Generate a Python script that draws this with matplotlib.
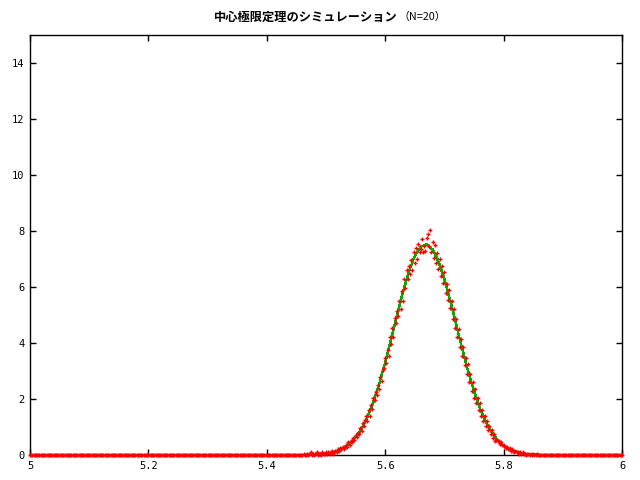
import matplotlib
matplotlib.use("Agg")
import matplotlib.pyplot as plt
import numpy as np

plt.rcParams['font.family'] = ['Noto Sans CJK JP', 'DejaVu Sans']

title_main = "中心極限定理のシミュレーション"
title_sub = "（N=20）"

# histogram of sample means, bins of 0.002 on [5, 6]; non-zero part starts at 5.460
hist_step = 0.002
hist_start = 5.460
hist_peak = [
    0, 0.05, 0, 0, 0.05, 0, 0.05, 0.1, 0, 0.05,
    0, 0.05, 0.1, 0, 0.05, 0.05, 0, 0.1, 0.05, 0.05,
    0.1, 0.05, 0.1, 0.05, 0.1, 0.15, 0.05, 0.1, 0.15, 0.1,
    0.2, 0.15, 0.25, 0.2, 0.3, 0.2, 0.3, 0.35, 0.3, 0.45,
    0.35, 0.5, 0.45, 0.6, 0.55, 0.7, 0.65, 0.8, 0.75, 0.95,
    0.85, 1.15, 1.05, 1.25, 1.4, 1.2, 1.6, 1.4, 1.8, 1.65,
    2.05, 1.95, 2.25, 2.15, 2.5, 2.35, 2.8, 2.65, 3.05, 3.1,
    3.45, 3.3, 3.75, 3.55, 4.2, 3.95, 4.55, 4.2, 4.9, 4.7,
    5.15, 4.95, 5.5, 5.2, 5.85, 5.5, 6.3, 5.95, 6.6, 6.3,
    6.75, 6.45, 6.95, 6.6, 7.25, 6.85, 7.4, 7.0, 7.55, 7.25,
    7.35, 7.7, 7.25, 7.45,
    7.3, 7.75, 7.9, 7.45, 8.05, 7.25, 7.6, 7.05, 7.5, 6.85,
    7.2, 6.65, 7.0, 6.4, 6.75, 6.15, 6.55, 5.8, 6.1, 5.55,
    5.9, 5.25, 5.5, 4.85, 5.2, 4.55, 4.85, 4.2, 4.5, 3.85,
    4.15, 3.55, 3.85, 3.2, 3.45, 2.9, 3.25, 2.6, 2.9, 2.3,
    2.6, 2.05, 2.35, 1.85, 2.05, 1.6, 1.85, 1.4, 1.6, 1.2,
    1.4, 1.05, 1.2, 0.9, 1.05, 0.75, 0.9, 0.6, 0.75, 0.5,
    0.55, 0.5, 0.5, 0.4, 0.45, 0.35, 0.35, 0.3, 0.25, 0.3,
    0.2, 0.25, 0.15, 0.2, 0.15, 0.1, 0.15, 0.1, 0.1, 0.05,
    0.1, 0.05, 0.1, 0.05, 0.05, 0, 0.05, 0.05, 0, 0.05,
    0, 0.05, 0, 0, 0.05,
]

# normal density curve (sampled)
curve_x = [5.0, 5.45, 5.46, 5.47, 5.48, 5.49, 5.50, 5.51, 5.52, 5.53, 5.54,
           5.55, 5.56, 5.57, 5.58, 5.59, 5.60, 5.61, 5.62, 5.63, 5.64,
           5.65, 5.66, 5.67, 5.68, 5.69, 5.70, 5.71, 5.72, 5.73, 5.74,
           5.75, 5.76, 5.77, 5.78, 5.79, 5.80, 5.81, 5.82, 5.83, 5.84,
           5.85, 5.86, 5.87, 5.88, 6.0]
curve_y = [0.0, 0.0, 0.003, 0.007, 0.014, 0.027, 0.049, 0.088, 0.152, 0.254, 0.408,
           0.632, 0.945, 1.36, 1.90, 2.55, 3.31, 4.14, 5.00, 5.82, 6.55,
           7.11, 7.44, 7.52, 7.34, 6.91, 6.28, 5.50, 4.65, 3.80, 2.99,
           2.28, 1.67, 1.18, 0.807, 0.532, 0.339, 0.208, 0.123, 0.070, 0.039,
           0.020, 0.010, 0.005, 0.0, 0.0]

x_ticks = [5, 5.2, 5.4, 5.6, 5.8, 6]
x_tick_labels = ["5", "5.2", "5.4", "5.6", "5.8", "6"]
y_ticks = [0, 2, 4, 6, 8, 10, 12, 14]

grid_x = np.round(np.arange(5.0, 6.0 + hist_step / 2, hist_step), 3)
grid_y = np.zeros(len(grid_x))
i0 = int(round((hist_start - 5.0) / hist_step))
grid_y[i0:i0 + len(hist_peak)] = hist_peak

fig = plt.figure(figsize=(6.4, 4.8), dpi=100)
ax = fig.add_axes([30 / 640, 25 / 480, 592 / 640, 420 / 480])

ax.plot(curve_x, curve_y, color='#00b000', linewidth=1.0, antialiased=False,
        clip_on=False, zorder=3)
ax.plot(grid_x, grid_y, linestyle='none', marker='+', markersize=2.8,
        markeredgewidth=1.0, color='#ff0000', antialiased=False,
        clip_on=False, zorder=4)

ax.set_xlim(5, 6)
ax.set_ylim(0, 15)
ax.set_xticks(x_ticks)
ax.set_xticklabels(x_tick_labels)
ax.set_yticks(y_ticks)
for lab in ax.get_xticklabels() + ax.get_yticklabels():
    lab.set_family('DejaVu Sans Mono')
    lab.set_fontsize(7.5)
ax.tick_params(direction='in', length=4, width=1, top=True, right=True, pad=4)
for s in ax.spines.values():
    s.set_linewidth(1)

fig.text(398 / 640, 1 - 17 / 480, title_main, ha='right', va='center',
         fontsize=8.8, fontweight='bold')
fig.text(399 / 640, 1 - 17 / 480, title_sub, ha='left', va='center', fontsize=7.8)

fig.savefig("out.png", dpi=100)
